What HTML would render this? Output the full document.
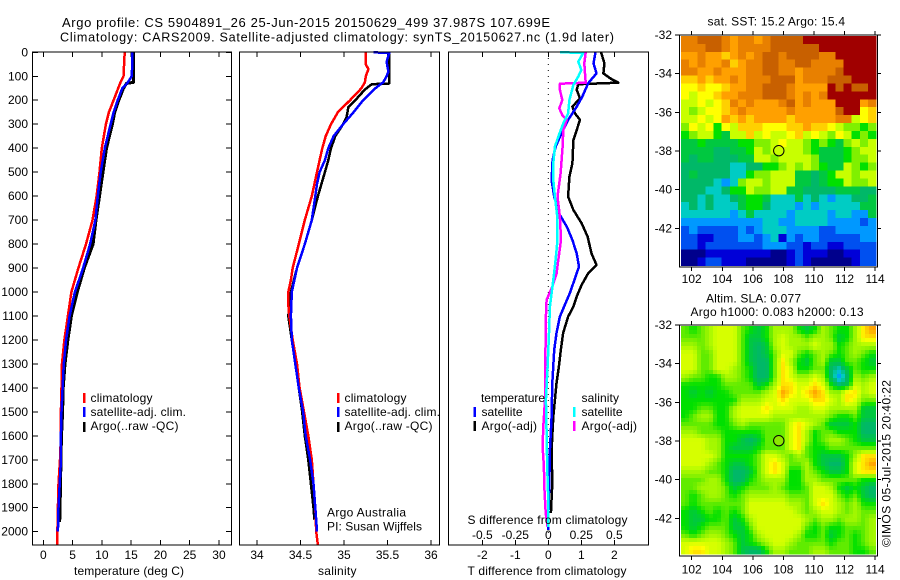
<!DOCTYPE html>
<html>
<head>
<meta charset="utf-8">
<title>Argo profile</title>
<style>
html,body{margin:0;padding:0;background:#fff;}
svg{display:block;}
text{font-family:"Liberation Sans",sans-serif;font-size:12px;fill:#000;}
</style>
</head>
<body>
<svg id="chart" xmlns="http://www.w3.org/2000/svg" width="900" height="580" viewBox="0 0 900 580">
<rect x="0" y="0" width="900" height="580" fill="#fff"/>
<g id="marks"></g>
<text x="62" y="27" style="font-size:13px" textLength="488" lengthAdjust="spacing">Argo profile: CS 5904891_26 25-Jun-2015 20150629_499 37.987S 107.699E</text>
<text x="60" y="41.5" style="font-size:12.6px" textLength="554" lengthAdjust="spacing">Climatology: CARS2009. Satellite-adjusted climatology: synTS_20150627.nc (1.9d later)</text>

<text x="74" y="575" textLength="110" lengthAdjust="spacing">temperature (deg C)</text>
<text x="318" y="575" textLength="38.5" lengthAdjust="spacing">salinity</text>
<text x="467.5" y="575" textLength="159" lengthAdjust="spacing">T difference from climatology</text>
<text x="467.5" y="524" textLength="160" lengthAdjust="spacing">S difference from climatology</text>

<g>
<rect x="83" y="393" width="2.5" height="10" fill="#f00"/>
<rect x="83" y="407" width="2.5" height="10" fill="#00f"/>
<rect x="83" y="422" width="2.5" height="10" fill="#000"/>
<text x="90.5" y="402" textLength="62" lengthAdjust="spacing">climatology</text>
<text x="90.5" y="416" textLength="95.5" lengthAdjust="spacing">satellite-adj. clim.</text>
<text x="90.5" y="430" textLength="88" lengthAdjust="spacing">Argo(..raw -QC)</text>
</g>
<g>
<rect x="337" y="393" width="2.5" height="10" fill="#f00"/>
<rect x="337" y="407" width="2.5" height="10" fill="#00f"/>
<rect x="337" y="422" width="2.5" height="10" fill="#000"/>
<text x="344.5" y="402" textLength="62" lengthAdjust="spacing">climatology</text>
<text x="344.5" y="416" textLength="95.5" lengthAdjust="spacing">satellite-adj. clim.</text>
<text x="344.5" y="430" textLength="88" lengthAdjust="spacing">Argo(..raw -QC)</text>
</g>
<text x="327" y="516.5" textLength="79" lengthAdjust="spacing">Argo Australia</text>
<text x="327" y="530.5" textLength="95" lengthAdjust="spacing">PI: Susan Wijffels</text>

<g>
<text x="481" y="402" textLength="64" lengthAdjust="spacing">temperature</text>
<rect x="473.5" y="407" width="2.5" height="10" fill="#00f"/>
<rect x="473.5" y="421" width="2.5" height="10" fill="#000"/>
<text x="481.5" y="416" textLength="41" lengthAdjust="spacing">satellite</text>
<text x="481.5" y="430" textLength="55.5" lengthAdjust="spacing">Argo(-adj)</text>
<text x="581.5" y="402" textLength="37.5" lengthAdjust="spacing">salinity</text>
<rect x="573" y="407" width="2.5" height="10" fill="#0ff"/>
<rect x="573" y="421" width="2.5" height="10" fill="#f0f"/>
<text x="581.5" y="416" textLength="41" lengthAdjust="spacing">satellite</text>
<text x="581.5" y="430" textLength="55.5" lengthAdjust="spacing">Argo(-adj)</text>
</g>

<text x="707.5" y="25.5" textLength="137.5" lengthAdjust="spacing">sat. SST: 15.2 Argo: 15.4</text>
<text x="706" y="302.5" textLength="95" lengthAdjust="spacing">Altim. SLA: 0.077</text>
<text x="690.5" y="316" textLength="173" lengthAdjust="spacing">Argo h1000: 0.083 h2000: 0.13</text>
<text transform="translate(890.5,547) rotate(-90)" x="0" y="0" textLength="167" lengthAdjust="spacing">©IMOS 05-Jul-2015 20:40:22</text>
</svg>

<script>
// ---------- profile data (depth in m, temperature in deg C, salinity in psu) ----------
const tempClimDepth = [0,100,130,200,250,300,400,500,600,700,800,900,1000,1100,1200,1300,1400,1500,1600,1700,1800,1900,2000,2056];
const tempClimValue = [13.9,13.7,13.1,12,11.2,10.7,10,9.6,9.1,8.4,7.3,6,4.8,4.2,3.6,3.2,3.1,3,3,2.85,2.6,2.5,2.4,2.4];
const tempSatDepth = [0,50,100,130,150,200,250,300,400,500,600,700,800,900,1000,1100,1200,1300,1400,1500,1600,1700,1800,1900,2000];
const tempSatValue = [15.2,15.2,15.1,14.3,13.5,12.7,12,11.5,10.5,9.8,9.3,8.9,8,6.8,5.4,4.5,3.9,3.5,3.3,3.1,3,3,2.8,2.6,2.5];
const tempArgoDepth = [0,125,130,150,200,250,300,400,500,600,700,800,900,1000,1100,1200,1300,1400,1500,1600,1700,1800,1900,1960];
const tempArgoValue = [15.4,15.4,14.2,13.7,12.9,12.2,11.8,10.8,10.2,9.6,9,8.5,7,5.8,4.8,4.2,3.7,3.4,3.3,3.1,3,2.95,2.85,2.8];

const salClimDepth = [0,50,70,100,125,150,200,250,300,350,400,450,500,550,600,700,800,900,950,1000,1050,1100,1200,1300,1400,1500,1600,1700,1800,1900,2000,2056];
const salClimValue = [35.25,35.25,35.28,35.25,35.24,35.2,35.07,34.93,34.85,34.79,34.75,34.72,34.69,34.66,34.63,34.55,34.48,34.41,34.39,34.36,34.36,34.37,34.41,34.46,34.49,34.54,34.59,34.63,34.65,34.67,34.68,34.7];
const salSatDepth = [0,3,40,80,100,125,150,200,250,300,350,400,450,500,550,600,700,800,900,1000,1100,1200,1300,1400,1500,1600,1700,1800,1900,2000];
const salSatValue = [35.34,35.52,35.49,35.51,35.49,35.45,35.36,35.22,35.11,34.99,34.88,34.82,34.78,34.72,34.69,34.67,34.63,34.55,34.46,34.4,34.39,34.4,34.44,34.48,34.53,34.56,34.61,34.65,34.67,34.69];
const salArgoDepth = [0,130,133,155,200,230,270,300,350,400,450,500,550,600,700,800,900,1000,1100,1200,1300,1400,1500,1600,1700,1800,1900,1950];
const salArgoValue = [35.52,35.52,35.32,35.24,35.13,35.05,35.03,34.99,34.9,34.85,34.82,34.78,34.74,34.7,34.63,34.55,34.46,34.39,34.36,34.4,34.44,34.48,34.52,34.55,34.59,34.62,34.65,34.66];

const dTempSatDepth = [0,46,88,129,185,227,282,338,394,449,533,602,672,727,783,839,894,950,1005,1061,1103,1172,1242,1381,1520,1659,1798,1937,1993];
const dTempSatValue = [1.43,1.37,1.46,1.21,1.03,0.86,0.6,0.4,0.22,0.13,0.1,0.18,0.32,0.56,0.73,0.86,0.93,0.79,0.65,0.48,0.35,0.25,0.18,0.12,0.1,0.05,0.03,0,0];
const dTempArgoDepth = [0,46,88,108,127,131,133,157,192,227,255,282,324,366,463,519,602,658,713,769,839,887,922,971,1019,1061,1103,1172,1242,1311,1381,1520,1659,1798,1923];
const dTempArgoValue = [1.6,1.7,1.67,1.87,2.12,1.31,0.91,0.86,0.96,0.73,0.81,0.96,0.86,0.76,0.73,0.64,0.6,0.76,1.01,1.19,1.31,1.46,1.21,1.01,0.86,0.76,0.6,0.45,0.38,0.32,0.25,0.15,0.1,0.12,0.08];
const dSalSatDepth = [0,2,39,74,101,136,199,255,296,352,394,463,533,602,686,783,866,950,1005,1061,1172,1311,1450,1589,1728,1868,1980];
const dSalSatValue = [0.088,0.265,0.227,0.25,0.227,0.19,0.16,0.15,0.114,0.076,0.05,0.038,0.038,0.05,0.068,0.07,0.055,0.038,0.025,0.012,0.005,-0.005,-0.018,-0.013,-0.008,0,0];
const dSalArgoDepth = [0,46,88,127,131,157,199,234,262,282,324,394,505,602,686,783,866,922,978,1033,1103,1172,1311,1450,1561,1645,1728,1812,1923,1980];
const dSalArgoValue = [0.283,0.273,0.278,0.283,0.088,0.088,0.106,0.083,0.106,0.139,0.114,0.108,0.093,0.07,0.088,0.096,0.076,0.063,0.03,-0.013,-0.018,-0.018,-0.025,-0.025,-0.038,-0.043,-0.033,-0.03,-0.02,-0.005];

// ---------- tick labels ----------
const depthTicks = [0,100,200,300,400,500,600,700,800,900,1000,1100,1200,1300,1400,1500,1600,1700,1800,1900,2000];
const tempTicks = [0,5,10,15,20,25,30];
const salTicks = [34,34.5,35,35.5,36];
const dTempTicks = [-2,-1,0,1,2];
const dSalTicks = [-0.5,-0.25,0,0.25,0.5];
const lonTicks = [102,104,106,108,110,112,114];
const latTicks = [-32,-34,-36,-38,-40,-42];
const profileLon = 107.699;
const profileLat = -37.987;

// ---------- map data: one hex digit per cell = colour level 0..15 ----------
const sstRows = [
"ddeeedcddcdeeeefffffffff",
"dddeedcddddeeeeeefffffff",
"ccdccbcdcdeedeeeeddfffff",
"dcdccdbcddeeddeeddddffff",
"ddccdcccddeeddcddddeffff",
"bbcbccdcdddeeecdddeeefff",
"aabaabccddeeedccccfefeef",
"a9aabccdddeeedcdcdffffff",
"99a9abdcdcccdecdcccfffcd",
"989aabcdcccccdccccceffab",
"99a9acbcbccccbcccccdd9ab",
"8a9a7a9bbbaaabbcbba98878",
"78997699b9a99ab9a98a9787",
"667666677889a99878768989",
"666655667989999876667899",
"656655566998999986667889",
"555555445577898987669878",
"565555447889996656799899",
"555543489989996656779889",
"555445779889966555566655",
"554544567764446454344556",
"454544467754443434444466",
"444444346444434444344336",
"333333333344334444333323",
"232222232344433332233333",
"221122233234132332222233",
"221222222233322122112222",
"000111111110012111001122",
"001221110000012100000122"
];
const slaRows = [
"8789aaa876799976798779bc",
"8889aaa86679a998998679bb",
"9989aaa86569a999a9978999",
"aa88aaa86568aa8789878987",
"aa88aaa86558b97689668876",
"aa88aa987558ba7788546877",
"988779987558ba99a9535989",
"777778888679bbaaba756a9a",
"76767788889acbabcb99bb9a",
"7777777999aabaaabba9ba88",
"7788779aaabaaa99aa999966",
"7899779aaaa9999999877866",
"8888778988888aba98666755",
"9988877777888ab978877755",
"aaa9977656888ab978998766",
"aaa9976667888ab877888888",
"aaaa977778aa9898766679bb",
"aaa9876678aba88976557abc",
"9998875568aba77987667abb",
"888997557899977998888877",
"8899986788898778aa976765",
"8789987899999888aaa87865",
"87888888aaaaa998aba98977",
"76787878aaaaaa989aa98988",
"766778679aaaaaa989989989",
"767888668aaaaaa878778889",
"8789987679aaaa9778678789",
"aaaaa986789aa98888788789",
"abbaa9865579988899888778"
];
const colourLevels = ["#00008c","#0000d8","#0050f0","#0098ff","#00ccc4","#00b868","#00c840","#00e000","#80f000","#c8ff00","#ffff00","#ffd000","#ffa000","#e88000","#c86000","#a00000"];

// ---------- axis functions ----------
const NS = "http://www.w3.org/2000/svg";
const root = document.getElementById("marks");
const yDepth = d => 52.3 + d * 0.2397;
const xTemp = t => 43.3 + t * 5.855;
const xSal = s => 257 + (s - 34) * 87;
const xDT = t => 548.3 + t * 33;
const xDS = s => 548.3 + s * 132;
const sstLonX = lon => 691.7 + (lon - 102) * 15.28;
const sstLatY = lat => 35 + (-32 - lat) * 19.33;
const slaLatY = lat => 325 + (-32 - lat) * 19.33;

function mk(tag, attrs, parent) {
  const el = document.createElementNS(NS, tag);
  for (const k in attrs) el.setAttribute(k, attrs[k]);
  (parent || root).appendChild(el);
  return el;
}
function hexRgb(h) {
  return [parseInt(h.slice(1,3),16), parseInt(h.slice(3,5),16), parseInt(h.slice(5,7),16)];
}
function levelColour(v) {
  const lo = Math.max(0, Math.min(14, Math.floor(v)));
  const f = Math.max(0, Math.min(1, v - lo));
  const a = hexRgb(colourLevels[lo]), b = hexRgb(colourLevels[lo + 1]);
  return "rgb(" + a.map((c, i) => Math.round(c + (b[i] - c) * f)).join(",") + ")";
}
// SLA colour response: greens and limes dominate, the yellow band is narrow
function slaLevel(v) {
  if (v <= 7) return v;
  if (v <= 10) return 7 + (v - 7) * 0.75;
  return 9.25 + (v - 10) * 1.37;
}
function profile(depths, values, xFn, colour, width, name) {
  const pts = depths.map((d, i) => xFn(values[i]).toFixed(1) + "," + yDepth(d).toFixed(1)).join(" ");
  const el = mk("polyline", {points: pts, fill: "none", stroke: colour, "stroke-width": width, "stroke-linejoin": "round", "shape-rendering": "crispEdges"});
  
  
}
function line(x1, y1, x2, y2, name) {
  const el = mk("line", {x1: x1, y1: y1, x2: x2, y2: y2, stroke: "#000", "stroke-width": 1, "shape-rendering": "crispEdges"});
  
  
}
function label(str, x, y, anchor, name) {
  const el = mk("text", {x: x, y: y, "text-anchor": anchor});
  el.textContent = str;
  
  
}
function frame(x, y, w, h, name) {
  const el = mk("rect", {x: x, y: y, width: w, height: h, fill: "none", stroke: "#000", "stroke-width": 1, "shape-rendering": "crispEdges"});
  
  
}

// ---------- profile panels ----------
const panelTop = 52, panelBottom = 545;

depthTicks.forEach(d => {
  line(32.5, yDepth(d), 38, yDepth(d), "depth-tick-left");
  line(226, yDepth(d), 231.5, yDepth(d), "depth-tick-right");
  label(String(d), 28, yDepth(d) + 4, "end", "depth-tick-label");
});
tempTicks.forEach(t => {
  line(xTemp(t), panelTop, xTemp(t), panelTop + 5, "temperature-tick-top");
  line(xTemp(t), panelBottom - 5, xTemp(t), panelBottom, "temperature-tick-bottom");
  label(String(t), xTemp(t), 559, "middle", "temperature-tick-label");
});
salTicks.forEach(s => {
  line(xSal(s), panelTop, xSal(s), panelTop + 5, "salinity-tick-top");
  line(xSal(s), panelBottom - 5, xSal(s), panelBottom, "salinity-tick-bottom");
  label(String(s), xSal(s), 559, "middle", "salinity-tick-label");
});
dTempTicks.forEach(t => {
  line(xDT(t), panelTop, xDT(t), panelTop + 5, "t-difference-tick-top");
  line(xDT(t), panelBottom - 5, xDT(t), panelBottom, "t-difference-tick-bottom");
  label(String(t), xDT(t), 559, "middle", "t-difference-tick-label");
});
dSalTicks.forEach(s => {
  label(String(s), xDS(s), 539, "middle", "s-difference-tick-label");
});

const zeroLine = mk("line", {x1: xDT(0), y1: panelTop, x2: xDT(0), y2: panelBottom, stroke: "#000", "stroke-width": 1, "stroke-dasharray": "1 5"});



profile(tempArgoDepth, tempArgoValue, xTemp, "#000", 3, "temperature-argo-line");
profile(tempClimDepth, tempClimValue, xTemp, "#f00", 2.5, "temperature-climatology-line");
profile(tempSatDepth, tempSatValue, xTemp, "#00f", 2.5, "temperature-satellite-line");

profile(salArgoDepth, salArgoValue, xSal, "#000", 2.5, "salinity-argo-line");
profile(salClimDepth, salClimValue, xSal, "#f00", 2.5, "salinity-climatology-line");
profile(salSatDepth, salSatValue, xSal, "#00f", 2.5, "salinity-satellite-line");

profile(dTempArgoDepth, dTempArgoValue, xDT, "#000", 2.5, "t-difference-argo-line");
profile(dTempSatDepth, dTempSatValue, xDT, "#00f", 2.5, "t-difference-satellite-line");
profile(dSalArgoDepth, dSalArgoValue, xDS, "#f0f", 2.5, "s-difference-argo-line");
profile(dSalSatDepth, dSalSatValue, xDS, "#0ff", 2.5, "s-difference-satellite-line");

frame(32.5, panelTop, 199, panelBottom - panelTop, "temperature-panel-frame");
frame(239.5, panelTop, 200, panelBottom - panelTop, "salinity-panel-frame");
frame(448.5, panelTop, 200, panelBottom - panelTop, "difference-panel-frame");

// ---------- maps ----------
const imgLeft = 681, imgRight = 876;

// SST: one rect per data cell
const sstTop = 36, sstBottom = 265.5;
const sstCellW = (imgRight - imgLeft) / sstRows[0].length;
const sstCellH = (sstBottom - sstTop) / sstRows.length;
sstRows.forEach((row, j) => {
  row.split("").forEach((ch, i) => {
    const c = mk("rect", {x: imgLeft + i * sstCellW, y: sstTop + j * sstCellH, width: sstCellW + 0.5, height: sstCellH + 0.5, fill: colourLevels[parseInt(ch, 16)], "shape-rendering": "crispEdges"});
    
    
  });
});

// SLA: smooth field, read from slaRows and drawn on a 4px raster
const slaTop = 326, slaBottom = 554.5;
const slaN = slaRows.length, slaM = slaRows[0].length;
const rasterW = 4, rasterH = 4;
for (let py = slaTop; py < slaBottom; py += rasterH) {
  for (let px = imgLeft; px < imgRight; px += rasterW) {
    const gx = Math.max(0, Math.min(slaM - 1.001, (px + rasterW / 2 - imgLeft) / (imgRight - imgLeft) * slaM - 0.5));
    const gy = Math.max(0, Math.min(slaN - 1.001, (py + rasterH / 2 - slaTop) / (slaBottom - slaTop) * slaN - 0.5));
    const i0 = Math.floor(gx), j0 = Math.floor(gy), fx = gx - i0, fy = gy - j0;
    const v00 = parseInt(slaRows[j0][i0], 16), v10 = parseInt(slaRows[j0][i0 + 1], 16);
    const v01 = parseInt(slaRows[j0 + 1][i0], 16), v11 = parseInt(slaRows[j0 + 1][i0 + 1], 16);
    const v = (v00 * (1 - fx) + v10 * fx) * (1 - fy) + (v01 * (1 - fx) + v11 * fx) * fy;
    const c = mk("rect", {x: px, y: py, width: Math.min(rasterW, imgRight - px), height: Math.min(rasterH, slaBottom - py), fill: levelColour(slaLevel(v)), "shape-rendering": "crispEdges"});
    
    
  }
}

function mapAxes(top, bottom, latY, labelY, prefix) {
  lonTicks.forEach(lon => {
    line(sstLonX(lon), top - 4, sstLonX(lon), top, prefix + "-longitude-tick-top");
    line(sstLonX(lon), bottom, sstLonX(lon), bottom + 4, prefix + "-longitude-tick-bottom");
    label(String(lon), sstLonX(lon), labelY, "middle", prefix + "-longitude-label");
  });
  latTicks.forEach(lat => {
    line(675, latY(lat), 679.5, latY(lat), prefix + "-latitude-tick-left");
    line(877.5, latY(lat), 881, latY(lat), prefix + "-latitude-tick-right");
    label(String(lat), 672, latY(lat) + 4, "end", prefix + "-latitude-label");
  });
  frame(679.5, top, 198, bottom - top, prefix + "-map-frame");
}
mapAxes(35, 267, sstLatY, 283, "sst");
mapAxes(325, 556, slaLatY, 573.5, "sla");

const sstMarker = mk("circle", {cx: sstLonX(profileLon), cy: sstLatY(profileLat), r: 5.2, fill: "none", stroke: "#000", "stroke-width": 1});


const slaMarker = mk("circle", {cx: sstLonX(profileLon), cy: slaLatY(profileLat), r: 5.2, fill: "#8ce800", stroke: "#000", "stroke-width": 1});


</script>
</body>
</html>
